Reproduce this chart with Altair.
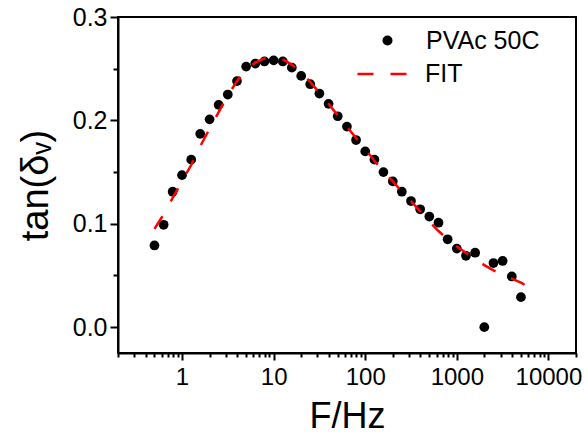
import altair as alt
import pandas as pd

# measured data (F in Hz, tan(delta_v))
freq = [0.5, 0.63, 0.79, 1.0, 1.26, 1.58, 2.0, 2.51, 3.16, 3.98,
        5.01, 6.31, 7.94, 10.0, 12.6, 15.8, 20.0, 25.1, 31.6, 39.8,
        50.1, 63.1, 79.4, 100.0, 126.0, 158.0, 200.0, 251.0, 316.0, 398.0,
        501.0, 631.0, 794.0, 1000.0, 1259.0, 1585.0, 1995.0, 2512.0, 3162.0, 3981.0,
        5012.0]
tan_delta = [0.079, 0.099, 0.131, 0.147, 0.162, 0.187, 0.201, 0.215, 0.225, 0.238,
             0.252, 0.255, 0.257, 0.258, 0.257, 0.251, 0.243, 0.235, 0.226, 0.216,
             0.204, 0.194, 0.181, 0.170, 0.162, 0.150, 0.141, 0.131, 0.122, 0.114,
             0.107, 0.101, 0.085, 0.076, 0.069, 0.072, 0.000, 0.062, 0.064, 0.049,
             0.029]

# fit curve
fit_freq = [0.5, 0.63, 0.79, 1.0, 1.26, 1.58, 2.0, 2.51, 3.16, 3.98,
            5.01, 6.31, 7.94, 10.0, 12.6, 15.8, 20.0, 25.1, 31.6, 39.8,
            50.1, 63.1, 79.4, 100.0, 126.0, 158.0, 200.0, 251.0, 316.0, 398.0,
            501.0, 631.0, 794.0, 1000.0, 1259.0, 1585.0, 1995.0, 2512.0, 3162.0, 3981.0,
            5012.0, 5500.0]
fit_tan = [0.095, 0.109, 0.125, 0.141, 0.157, 0.175, 0.192, 0.208, 0.224, 0.238,
           0.249, 0.256, 0.260, 0.261, 0.259, 0.254, 0.247, 0.237, 0.227, 0.216,
           0.205, 0.194, 0.183, 0.172, 0.161, 0.151, 0.141, 0.131, 0.122, 0.112,
           0.102, 0.093, 0.085, 0.078, 0.072, 0.066, 0.060, 0.055, 0.051, 0.047,
           0.043, 0.041]

x_tick_values = [0.2, 0.3, 0.4, 0.5, 0.6, 0.7, 0.8, 0.9,
                 1, 2, 3, 4, 5, 6, 7, 8, 9,
                 10, 20, 30, 40, 50, 60, 70, 80, 90,
                 100, 200, 300, 400, 500, 600, 700, 800, 900,
                 1000, 2000, 3000, 4000, 5000, 6000, 7000, 8000, 9000,
                 10000, 20000]
y_tick_values = [0.0, 0.05, 0.1, 0.15, 0.2, 0.25, 0.3]

series_name = "PVAc 50C"
fit_name = "FIT"

pts = pd.DataFrame({"F": freq, "tan": tan_delta, "series": series_name})
fit = pd.DataFrame({"F": fit_freq, "tan": fit_tan, "model": fit_name})

FONT = "Liberation Sans"

x_major = "abs(log(datum.value)/LN10 - round(log(datum.value)/LN10)) < 0.000001"
y_major = "round(datum.value*20) % 2 == 0"

xscale = alt.Scale(type="log", domain=[0.2, 20000], nice=False)
yscale = alt.Scale(domain=[-0.025, 0.3], nice=False, zero=False)

x_axis = alt.Axis(
    values=x_tick_values, format="d",
    labelExpr=f"({x_major}) ? datum.label : ''",
    tickSize={"condition": {"test": x_major, "value": 7}, "value": 4},
    labelOverlap=False, labelFlush=False, labelFontSize=24, labelPadding=5,
    title="F/Hz", titleFontSize=36, titlePadding=10,
)
y_axis = alt.Axis(
    values=y_tick_values, format=".1f",
    labelExpr=f"({y_major}) ? datum.label : ''",
    tickSize={"condition": {"test": y_major, "value": 8}, "value": 5},
    labelOverlap=False, labelFlush=False, labelFontSize=25, labelPadding=3,
    title="tan(δᵥ)", titleFontSize=38, titlePadding=17,
)

points = alt.Chart(pts).mark_point(filled=True, size=95, opacity=1).encode(
    x=alt.X("F:Q", scale=xscale, axis=x_axis),
    y=alt.Y("tan:Q", scale=yscale, axis=y_axis),
    fill=alt.Fill("series:N", scale=alt.Scale(domain=[series_name], range=["black"]),
                  legend=alt.Legend(title=None, orient="none", legendX=257, legendY=11,
                                    symbolType="circle", symbolSize=100, symbolStrokeWidth=0,
                                    labelFontSize=25, labelFont=FONT, labelColor="black",
                                    labelOffset=26, padding=0)),
)

line = alt.Chart(fit).mark_line(strokeDash=[15, 17], strokeWidth=2.5).encode(
    x=alt.X("F:Q", scale=xscale),
    y=alt.Y("tan:Q", scale=yscale),
    stroke=alt.Stroke("model:N", scale=alt.Scale(domain=[fit_name], range=["#ff0000"]),
                      legend=alt.Legend(title=None, orient="none", legendX=238, legendY=31,
                                        symbolType="stroke", symbolSize=2401,
                                        symbolStrokeWidth=2.5, symbolDash=[16, 17],
                                        labelFontSize=25, labelFont=FONT, labelColor="black",
                                        labelOffset=17, padding=0)),
)

chart = alt.layer(points, line).properties(
    width=458, height=336,
    autosize=alt.AutoSizeParams(type="none"),
    padding={"left": 118, "top": 17, "right": 12, "bottom": 86},
    background="white",
).configure_view(
    stroke="black", strokeWidth=2
).configure_axis(
    domainColor="black", domainWidth=2, tickColor="black", tickWidth=2,
    labelColor="black", titleColor="black", grid=False,
    labelFont=FONT, titleFont=FONT, titleFontWeight="normal",
)

chart.save("out.html", embed_options={"renderer": "svg", "actions": False})
